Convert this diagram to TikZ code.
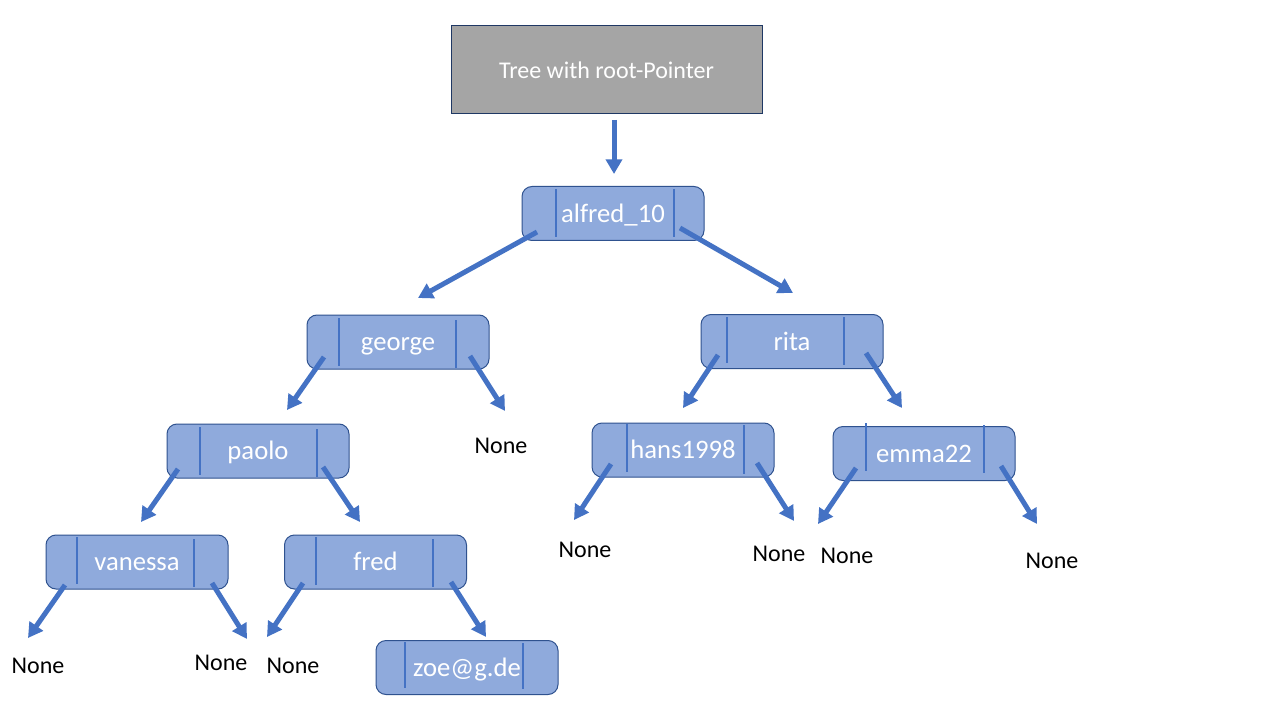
\documentclass[tikz,border=0pt]{standalone}
\usepackage{fontspec}
\setmainfont{Carlito}
\usetikzlibrary{arrows.meta}
\definecolor{nodefill}{HTML}{8FAADC}
\definecolor{nodeborder}{HTML}{2F528F}
\definecolor{accent}{HTML}{4472C4}
\definecolor{rootfill}{HTML}{A5A5A5}
\definecolor{rootborder}{HTML}{1F3864}
\begin{document}
\begin{tikzpicture}[x=0.75pt,y=-0.75pt,
  treenode/.style={draw=nodeborder, line width=0.75pt, fill=nodefill, rounded corners=7.5pt,
    minimum width=136.5pt, minimum height=40.5pt, inner sep=0pt, text=white,
    font=\fontsize{20}{24}\selectfont, text height=15pt, text depth=2pt},
  rootbox/.style={draw=rootborder, line width=0.75pt, fill=rootfill,
    minimum width=233.25pt, minimum height=66pt, inner sep=0pt, text=white,
    font=\fontsize{18}{22}\selectfont, text height=14pt, text depth=1.5pt},
  nonelabel/.style={font=\fontsize{18}{22}\selectfont, text=black, inner sep=0pt},
  divider/.style={draw=accent, line width=1.5pt},
  arr/.style={draw=accent, line width=3.75pt, -{Triangle[length=11pt,width=12pt]}}]
\useasboundingbox (0,0) rectangle (1280,720);
\fill[white] (0,0) rectangle (1280,720);

% root
\node[rootbox] (root) at (606.5,70) {Tree with root-Pointer};

% tree nodes
\node[treenode] (alfred) at (613,213.5) {alfred\_10};
\node[treenode] (george) at (398,342) {george};
\node[treenode] (rita) at (792,341.5) {rita};
\node[treenode] (paolo) at (258,451) {paolo};
\node[treenode] (hans) at (683,450) {hans1998};
\node[treenode] (emma) at (924,453.5) {emma22};
\node[treenode] (vanessa) at (137,562) {vanessa};
\node[treenode] (fred) at (375.5,562) {fred};
\node[treenode] (zoe) at (467,667.5) {zoe@g.de};

% dividers
\draw[divider] (556,189) -- (556,237);  \draw[divider] (674,189) -- (674,237);
\draw[divider] (339,318) -- (339,366);  \draw[divider] (456,320) -- (456,368);
\draw[divider] (727,317) -- (727,363);  \draw[divider] (844,317) -- (844,365);
\draw[divider] (200,427) -- (200,475);  \draw[divider] (317,429) -- (317,477);
\draw[divider] (627,424) -- (627,472);  \draw[divider] (744,425) -- (744,474);
\draw[divider] (866,423) -- (866,471);  \draw[divider] (984,425) -- (984,473);
\draw[divider] (77,537) -- (77,584);    \draw[divider] (194,539) -- (194,587);
\draw[divider] (316,537) -- (316,585);  \draw[divider] (433,539) -- (433,587);
\draw[divider] (405,642) -- (405,688);  \draw[divider] (523,643) -- (523,689);

% None labels
\node[nonelabel] (ng)  at (501,446) {None};
\node[nonelabel] (nhl) at (585,550) {None};
\node[nonelabel] (nhr) at (779,554) {None};
\node[nonelabel] (nel) at (847,556) {None};
\node[nonelabel] (ner) at (1052,561) {None};
\node[nonelabel] (nvl) at (38,666) {None};
\node[nonelabel] (nvr) at (221,663) {None};
\node[nonelabel] (nfl) at (293,666) {None};

% arrows
\draw[arr] ([shift={(7.5,50)}]root.center) -- ([shift={(1,-39.5)}]alfred.center);
\draw[arr] ([shift={(-76,18.5)}]alfred.center) -- ([shift={(20,-44)}]george.center);
\draw[arr] ([shift={(67,14.5)}]alfred.center) -- ([shift={(1,-48.5)}]rita.center);
\draw[arr] ([shift={(-74,15)}]george.center) -- ([shift={(29,-41)}]paolo.center);
\draw[arr] ([shift={(72,14)}]george.center) -- ([shift={(4,-35)}]ng.center);
\draw[arr] ([shift={(-74,13.5)}]rita.center) -- ([shift={(0,-42)}]hans.center);
\draw[arr] ([shift={(74,11.5)}]rita.center) -- ([shift={(-22,-45.5)}]emma.center);
\draw[arr] ([shift={(-80,18)}]paolo.center) -- ([shift={(4,-40)}]vanessa.center);
\draw[arr] ([shift={(65,16)}]paolo.center) -- ([shift={(-15.5,-40)}]fred.center);
\draw[arr] ([shift={(-72,14)}]hans.center) -- ([shift={(-11,-30)}]nhl.center);
\draw[arr] ([shift={(74,13)}]hans.center) -- ([shift={(15,-33)}]nhr.center);
\draw[arr] ([shift={(-68,14.5)}]emma.center) -- ([shift={(-29,-32)}]nel.center);
\draw[arr] ([shift={(77,12.5)}]emma.center) -- ([shift={(-15,-37)}]ner.center);
\draw[arr] ([shift={(-72,23)}]vanessa.center) -- ([shift={(-10,-28)}]nvl.center);
\draw[arr] ([shift={(75,21)}]vanessa.center) -- ([shift={(26,-24)}]nvr.center);
\draw[arr] ([shift={(-72.5,21)}]fred.center) -- ([shift={(-26,-29)}]nfl.center);
\draw[arr] ([shift={(75.5,20)}]fred.center) -- ([shift={(19,-30.5)}]zoe.center);
\end{tikzpicture}
\end{document}
